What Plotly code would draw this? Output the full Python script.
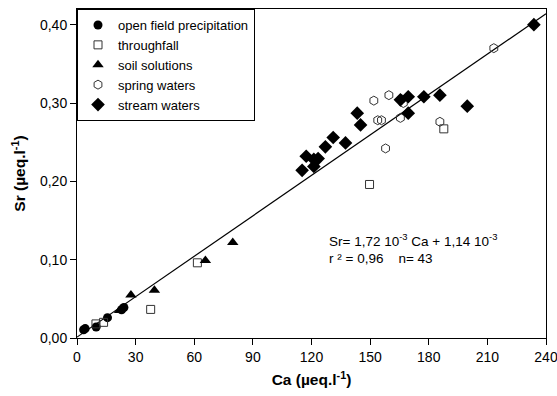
import plotly.graph_objects as go

# ---- data ----
open_field_ca = [3.4, 4.2, 9.8, 15.6, 22.8, 24.0]
open_field_sr = [0.0105, 0.012, 0.014, 0.026, 0.036, 0.039]

throughfall_ca = [9.7, 13.6, 37.7, 61.6, 149.7, 187.7]
throughfall_sr = [0.018, 0.020, 0.0365, 0.096, 0.196, 0.267]

soil_ca = [21.8, 27.6, 39.6, 65.7, 79.7]
soil_sr = [0.035, 0.055, 0.061, 0.099, 0.122]

spring_ca = [213.3, 151.9, 159.6, 153.9, 155.8, 165.5, 167.0, 157.9, 185.7, 166.0]
spring_sr = [0.370, 0.303, 0.310, 0.278, 0.278, 0.281, 0.300, 0.242, 0.276, 0.305]

stream_ca = [233.8, 199.7, 185.7, 177.5, 169.5, 165.5, 169.5, 143.4, 145.1,
             137.4, 131.1, 127.1, 117.3, 121.2, 123.4, 121.2, 115.2]
stream_sr = [0.400, 0.296, 0.310, 0.308, 0.308, 0.304, 0.287, 0.287, 0.272,
             0.249, 0.256, 0.244, 0.232, 0.228, 0.229, 0.219, 0.214]

# regression line coefficients (from the chart annotation)
slope = 1.72e-3
intercept = 1.14e-3
line_ca = [0, 240]
line_sr = [slope * c + intercept for c in line_ca]

x_ticks = [0, 30, 60, 90, 120, 150, 180, 210, 240]
y_ticks = [0.0, 0.1, 0.2, 0.3, 0.4]

FONT = "Liberation Sans, Arial, sans-serif"

fig = go.Figure()

fig.add_trace(go.Scatter(x=line_ca, y=line_sr, mode="lines",
                         line=dict(color="black", width=1.2),
                         showlegend=False, hoverinfo="skip"))

fig.add_trace(go.Scatter(x=open_field_ca, y=open_field_sr, mode="markers",
                         name="open field precipitation",
                         marker=dict(symbol="circle", size=9, color="black")))
fig.add_trace(go.Scatter(x=throughfall_ca, y=throughfall_sr, mode="markers",
                         name="throughfall",
                         marker=dict(symbol="square-open", size=8, color="#333",
                                     line=dict(width=1))))
fig.add_trace(go.Scatter(x=soil_ca, y=soil_sr, mode="markers",
                         name="soil solutions",
                         marker=dict(symbol="triangle-up", size=10, color="black")))
fig.add_trace(go.Scatter(x=spring_ca, y=spring_sr, mode="markers",
                         name="spring waters",
                         marker=dict(symbol="hexagon-open", size=9, color="#333",
                                     line=dict(width=1))))
fig.add_trace(go.Scatter(x=stream_ca, y=stream_sr, mode="markers",
                         name="stream waters",
                         marker=dict(symbol="diamond", size=10.5, color="black")))

fig.add_annotation(x=128.0, y=0.139, xref="x", yref="y", xanchor="left", yanchor="top",
                   align="left", showarrow=False,
                   text="Sr= 1,72 10<sup>-3</sup> Ca + 1,14 10<sup>-3</sup><br>"
                        "r ² = 0,96    n= 43",
                   font=dict(family=FONT, size=13.5, color="black"))

axis_common = dict(showline=True, linecolor="black", linewidth=1, mirror=True,
                   ticks="outside", ticklen=6, tickcolor="black", showgrid=False,
                   zeroline=False, automargin=False,
                   tickfont=dict(family=FONT, size=14, color="black"))

fig.update_layout(
    width=557, height=396,
    margin=dict(l=77, r=11, t=9, b=58),
    paper_bgcolor="white", plot_bgcolor="white",
    separators=", ",
    font=dict(family=FONT, size=13, color="black"),
    xaxis=dict(range=[0, 240], tickvals=x_ticks, ticklabeloverflow="allow",
               title=dict(text="<b>Ca (µeq.l<sup>-1</sup>)</b>",
                          font=dict(family=FONT, size=15.5), standoff=10),
               **axis_common),
    yaxis=dict(range=[0, 0.42], tickvals=y_ticks, tickformat=".2f",
               title=dict(text="<b>Sr (µeq.l<sup>-1</sup>)</b>",
                          font=dict(family=FONT, size=15.5), standoff=10),
               **axis_common),
    legend=dict(x=0, y=1, xanchor="left", yanchor="top",
                bgcolor="white", bordercolor="black", borderwidth=1,
                font=dict(family=FONT, size=13), tracegroupgap=0,
                itemwidth=30),
)

fig.write_html("out.html")
